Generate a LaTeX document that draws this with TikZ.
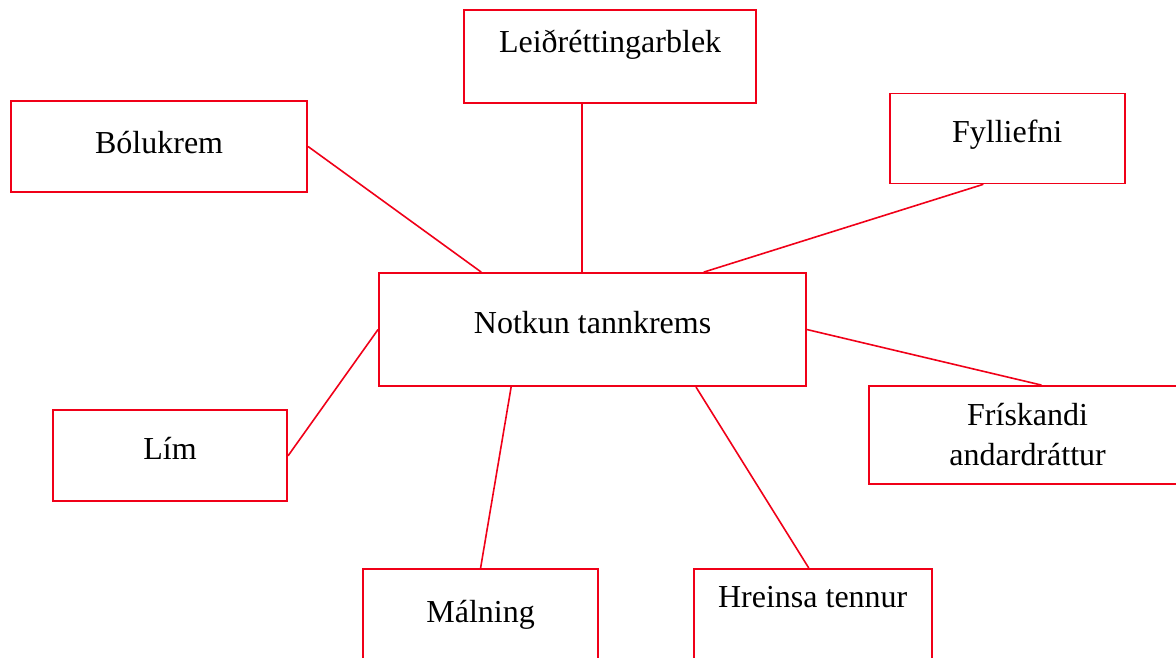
\documentclass[tikz,border=0pt]{standalone}
\usepackage{fontspec}
\setmainfont{Liberation Serif}
\usetikzlibrary{positioning}
\definecolor{mapred}{RGB}{240,0,24}
\tikzset{
  mapbox/.style={draw=mapred, line width=2.2pt, inner sep=0pt, align=center,
    font=\fontsize{32}{40}\selectfont, anchor=north west},
  maplink/.style={draw=mapred, line width=1.6pt, line cap=round}
}

\begin{document}
\begin{tikzpicture}[x=1pt,y=-1pt]
  \useasboundingbox (0,0) rectangle (1176,658);
  \clip (0,0) rectangle (1176,658);
  % Centre topic
  \node (notkun) [mapbox, minimum width=427pt, text height=60pt, text depth=53pt] at (378,272) {Notkun tannkrems};
  % Uses around it
  \node (leid) [mapbox, minimum width=292pt, text height=42pt, text depth=51pt] at (463,9) {Leiðréttingarblek};
  \node (bolu) [mapbox, minimum width=296pt, text height=52pt, text depth=39pt] at (10,100) {Bólukrem};
  \node (fyll) [mapbox, line width=1.5pt, minimum width=235pt, text height=49pt, text depth=41pt] at (889,93) {Fylliefni};
  \node (lim)  [mapbox, minimum width=234pt, text height=49pt, text depth=42pt] at (52,409) {Lím};
  \node (frisk) [mapbox, minimum width=317pt, text height=79pt, text depth=19pt] at (868,385) {Frískandi\\andardráttur};
  \node (maln) [mapbox, minimum width=235pt, text height=53pt, text depth=47pt] at (362,568) {Málning};
  \node (hrein) [mapbox, line width=1.5pt, minimum width=238pt, text height=39pt, text depth=61pt] at (693,568) {Hreinsa tennur};
  % Links
  \draw[maplink] ([xshift=-28pt]leid.south) -- ([xshift=-10.5pt]notkun.north);
  \draw[maplink] (bolu.east) -- ([xshift=-111.5pt]notkun.north);
  \draw[maplink] ([xshift=-24.5pt]fyll.south) -- ([xshift=111.5pt]notkun.north);
  \draw[maplink] (lim.east) -- (notkun.west);
  \draw[maplink] ([xshift=13.5pt]frisk.north) -- (notkun.east);
  \draw[maplink] (maln.north) -- ([xshift=-81.5pt]notkun.south);
  \draw[maplink] ([xshift=-4pt]hrein.north) -- ([xshift=103.5pt]notkun.south);
\end{tikzpicture}
\end{document}
